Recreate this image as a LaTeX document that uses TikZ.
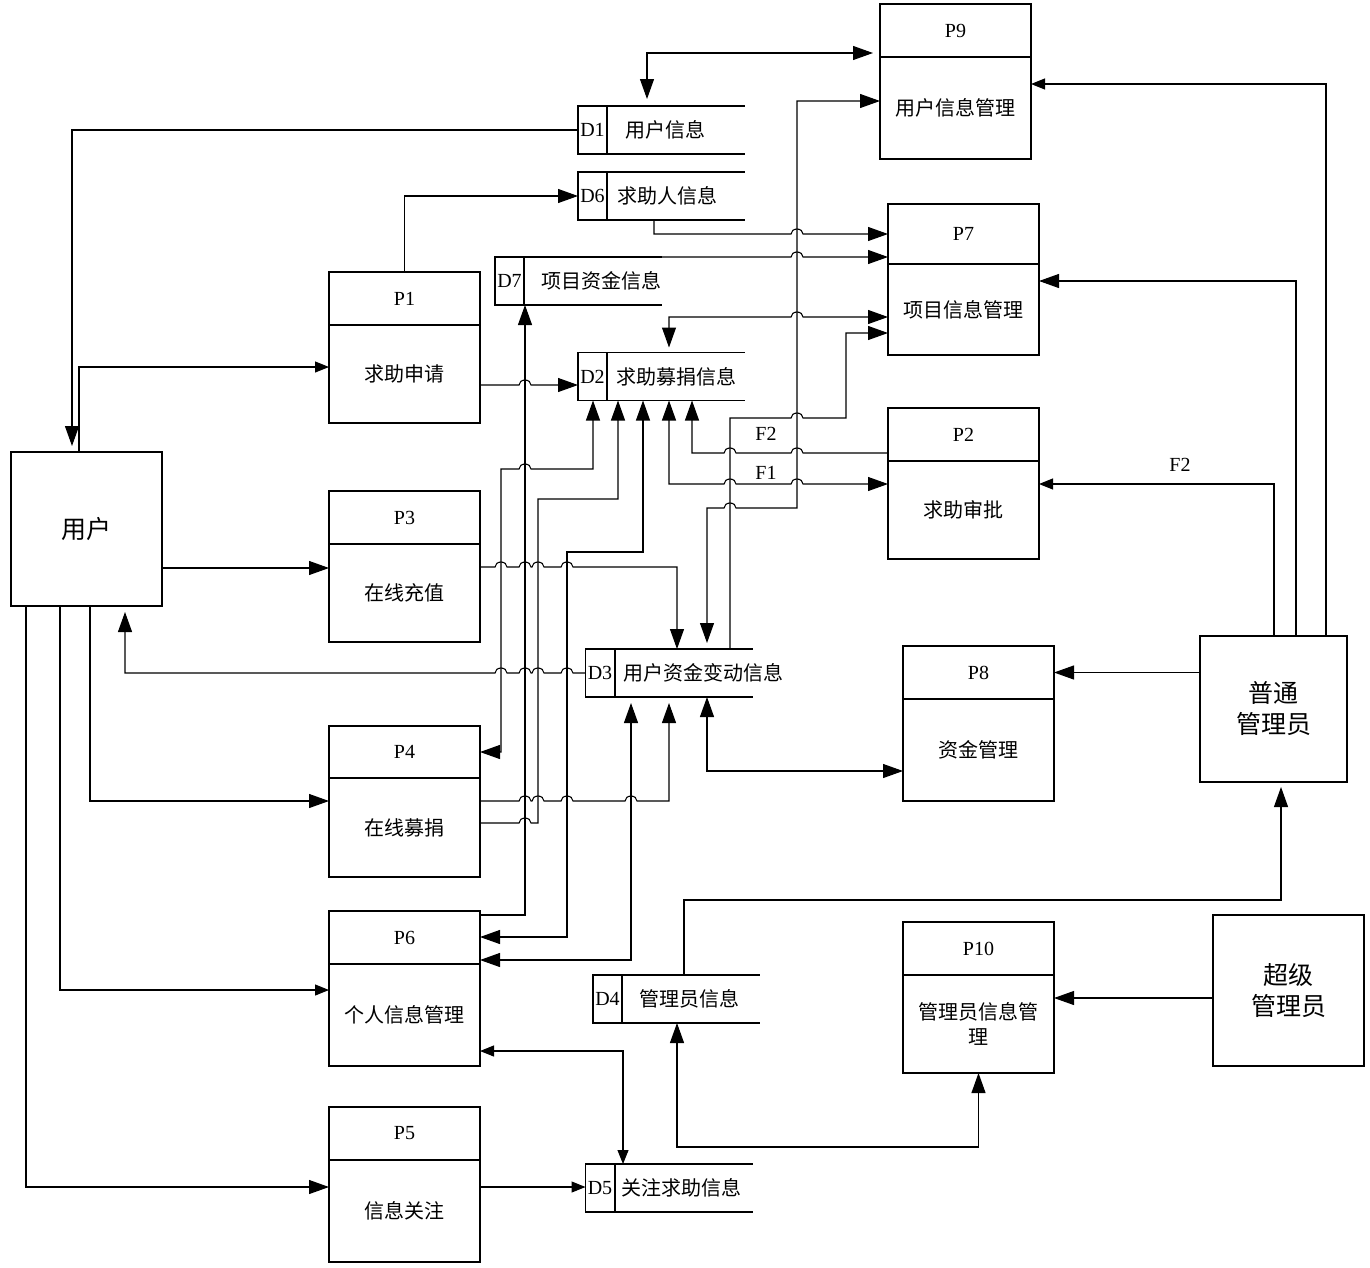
\documentclass[tikz,border=0pt]{standalone}
\usepackage{fontspec}
\setmainfont{Liberation Serif}
\newfontfamily\cjk{Noto Sans CJK SC}
\usepackage{tikz}
\usetikzlibrary{arrows.meta,positioning}

\newcommand\zhfont{\cjk\fontsize{20}{25}\selectfont}
\newcommand\bigzh{\cjk\fontsize{25}{31}\selectfont}
\newcommand\idfont{\fontsize{20}{24}\selectfont}
% line jumps over a vertical line at x=#1, y=#2
\newcommand\hopR[2]{-- ({#1-6},#2) arc[start angle=180,end angle=0,x radius=6pt,y radius=5pt]}
\newcommand\hopL[2]{-- ({#1+6},#2) arc[start angle=0,end angle=180,x radius=6pt,y radius=5pt]}

\tikzset{
  ext/.style={draw, outer sep=0pt, font=\bigzh, align=center},
  phead/.style={draw, outer sep=0pt, minimum width=151, minimum height=53, inner sep=0pt, font=\idfont},
  pbody/.style={draw, outer sep=0pt, minimum width=151, inner sep=0pt, font=\zhfont, align=center},
  dsid/.style={draw, outer sep=0pt, minimum width=29, minimum height=48, inner sep=0pt, font=\idfont},
  dstext/.style={inner sep=0pt, font=\zhfont},
  lbl/.style={inner sep=2pt, font=\idfont},
  flow/.style={-{Triangle[length=20pt,width=14pt]}},
  biflow/.style={{Triangle[length=20pt,width=14pt]}-{Triangle[length=20pt,width=14pt]}},
  sflow/.style={-{Triangle[length=14pt,width=11pt]}},
  sbiflow/.style={{Triangle[length=14pt,width=11pt]}-{Triangle[length=14pt,width=11pt]}},
}

\begin{document}
\begin{tikzpicture}[x=1pt, y=-1pt, line width=1.1pt]
\useasboundingbox (0,0) rectangle (1370,1267);

% external entities
\node[ext, minimum width=151, minimum height=154] (user) at (86.5,529) {用户};
\node[ext, minimum width=147, minimum height=146] (admin) at (1273.5,709) {普通\\管理员};
\node[ext, minimum width=151, minimum height=151] (sadmin) at (1288.5,990.5) {超级\\管理员};

% processes
\node[phead] (p9h) at (955.5,30.5) {P9};
\node[pbody, minimum height=102, below=0pt of p9h] (p9) {用户信息管理};
\node[phead, minimum height=60] (p7h) at (963.5,234) {P7};
\node[pbody, minimum height=91, below=0pt of p7h] (p7) {项目信息管理};
\node[phead] (p1h) at (404.5,298.5) {P1};
\node[pbody, minimum height=98, below=0pt of p1h] (p1) {求助申请};
\node[phead] (p2h) at (963.5,434.5) {P2};
\node[pbody, minimum height=98, below=0pt of p2h] (p2) {求助审批};
\node[phead] (p3h) at (404.5,517.5) {P3};
\node[pbody, minimum height=98, below=0pt of p3h] (p3) {在线充值};
\node[phead] (p8h) at (978.5,672.5) {P8};
\node[pbody, minimum height=102, below=0pt of p8h] (p8) {资金管理};
\node[phead, minimum height=52] (p4h) at (404.5,752) {P4};
\node[pbody, minimum height=99, below=0pt of p4h] (p4) {在线募捐};
\node[phead] (p6h) at (404.5,937.5) {P6};
\node[pbody, minimum height=102, below=0pt of p6h] (p6) {个人信息管理};
\node[phead] (p5h) at (404.5,1133.5) {P5};
\node[pbody, minimum height=102, below=0pt of p5h] (p5) {信息关注};
\node[phead] (p10h) at (978.5,948.5) {P10};
\node[pbody, minimum height=98, below=0pt of p10h] (p10) {管理员信息管\\理};

% data stores
\node[dsid] (d1) at (592.5,130) {D1};
\node[dsid] (d6) at (592.5,196) {D6};
\node[dsid] (d7) at (509.5,281) {D7};
\node[dsid] (d2) at (592.5,376.5) {D2};
\node[dsid] (d3) at (600,673) {D3};
\node[dsid] (d4) at (607.5,999) {D4};
\node[dsid] (d5) at (600,1188) {D5};
\foreach \d in {d1,d6,d7,d2,d3,d4,d5} {
  \draw (\d.north east) -- ++(138,0) (\d.south east) -- ++(138,0);
  \draw[line width=2pt] (\d.north east) -- (\d.south east);
}
\node[dstext, right=18pt of d1] (d1t) {用户信息};
\node[dstext, right=10pt of d6] (d6t) {求助人信息};
\node[dstext, right=17pt of d7] (d7t) {项目资金信息};
\node[dstext, right=9pt of d2] (d2t) {求助募捐信息};
\node[dstext, right=8pt of d3] (d3t) {用户资金变动信息};
\node[dstext, right=17pt of d4] (d4t) {管理员信息};
\node[dstext, right=6pt of d5] (d5t) {关注求助信息};

% user side
\draw[flow, shorten >=6pt] (d1.west) -| (user.north -| 72,0);
\draw[sflow] (user.north -| 79,0) |- (p1.west |- 0,367);
\draw[flow] (user.east |- 0,568) -- (p3.west |- 0,568);
\draw[flow] (user.south -| 90,0) |- (p4.west |- 0,801);
\draw[sflow] (user.south -| 60,0) |- (p6.west |- 0,990);
\draw[flow] (user.south -| 26,0) |- (p5.west |- 0,1187);
\draw[flow, shorten >=6pt] (d3.west) \hopL{567}{673} \hopL{538}{673} \hopL{525}{673} \hopL{501}{673} -| (user.south -| 125,0);

% processes to stores
\draw[flow] (p1h.north) |- (d6.west);
\draw[flow] (p1.east |- 0,385) \hopR{525}{385} -- (d2.west |- 0,385);
\draw[flow] (p3.east |- 0,567) \hopR{501}{567} \hopR{525}{567} \hopR{538}{567} \hopR{567}{567} -| (d3.north -| 677,0);
\draw[biflow] (d2.south -| 593,0) -- (593,469) \hopL{525}{469} -- (501,469) |- (p4h.east);
\draw[flow] (p4.east |- 0,823) \hopR{525}{823} -- (538,823) -- (538,499) -| (d2.south -| 618,0);
\draw[flow, shorten >=6pt] (p4.east |- 0,801) \hopR{525}{801} \hopR{538}{801} \hopR{567}{801} \hopR{631}{801} -| (d3.south -| 669,0);
\draw[flow] (p6h.east |- 0,915) -| (d7.south -| 525,0);
\draw[biflow] (d2.south -| 643,0) |- (567,552) |- (p6h.east |- 0,937);
\draw[biflow, shorten >=6pt] (p6h.east |- 0,960) -| (d3.south -| 631,0);
\draw[sbiflow] (p6.east |- 0,1051) -| (d5.north -| 623,0);
\draw[sflow] (p5.east |- 0,1187) -- (d5.west |- 0,1187);

% right part
\draw[biflow, shorten <=7pt, shorten >=7pt] (d1.north -| 647,0) |- (p9h.west |- 0,53);
\draw[biflow, shorten >=6pt] (p9.west |- 0,101) -- (797,101) -- (797,508) \hopL{730}{508} -| (d3.north -| 707,0);
\draw[flow] (d6.south -| 654,0) -- (654,234) \hopR{797}{234} -- (p7.west |- 0,234);
\draw[flow] (d7.north -| 662,0) \hopR{797}{257} -- (p7.west |- 0,257);
\draw[biflow, shorten <=5pt] (d2.north -| 669,0) -- (669,317) \hopR{797}{317} -- (p7.west |- 0,317);
\draw[flow] (d3.north -| 730,0) -- (730,418) \hopR{797}{418} -- (846,418) |- (p7.west |- 0,333);
\draw[flow] (p2h.west |- 0,453) \hopL{797}{453} -- (766,453) node[lbl, above=10pt] (f2a) {F2} \hopL{730}{453} -| (d2.south -| 692,0);
\draw[biflow] (d2.south -| 669,0) -- (669,484) \hopR{730}{484} -- (766,484) node[lbl, above=2pt] (f1) {F1} \hopR{797}{484} -- (p2.west |- 0,484);
\draw[biflow] (d3.south -| 707,0) |- (p8.west |- 0,771);

% administrators
\draw[sflow] (admin.north -| 1326,0) |- (p9.east |- 0,84);
\draw[flow] (admin.north -| 1296,0) |- (p7.east |- 0,281);
\draw[sflow] (admin.north -| 1274,0) |- (p2.east |- 0,484) node[lbl, pos=0.7, above=10pt] (f2b) {F2};
\draw[flow] (admin.west |- p8h.east) -- (p8h.east);
\draw[flow, shorten >=5pt] (d4.north -| 684,0) -- (684,900) -| (admin.south -| 1281,0);
\draw[biflow] (d4.south -| 677,0) -- (677,1147) -| (p10.south);
\draw[flow] (sadmin.west |- 0,998) -- (p10.east |- 0,998);
\end{tikzpicture}
\end{document}
